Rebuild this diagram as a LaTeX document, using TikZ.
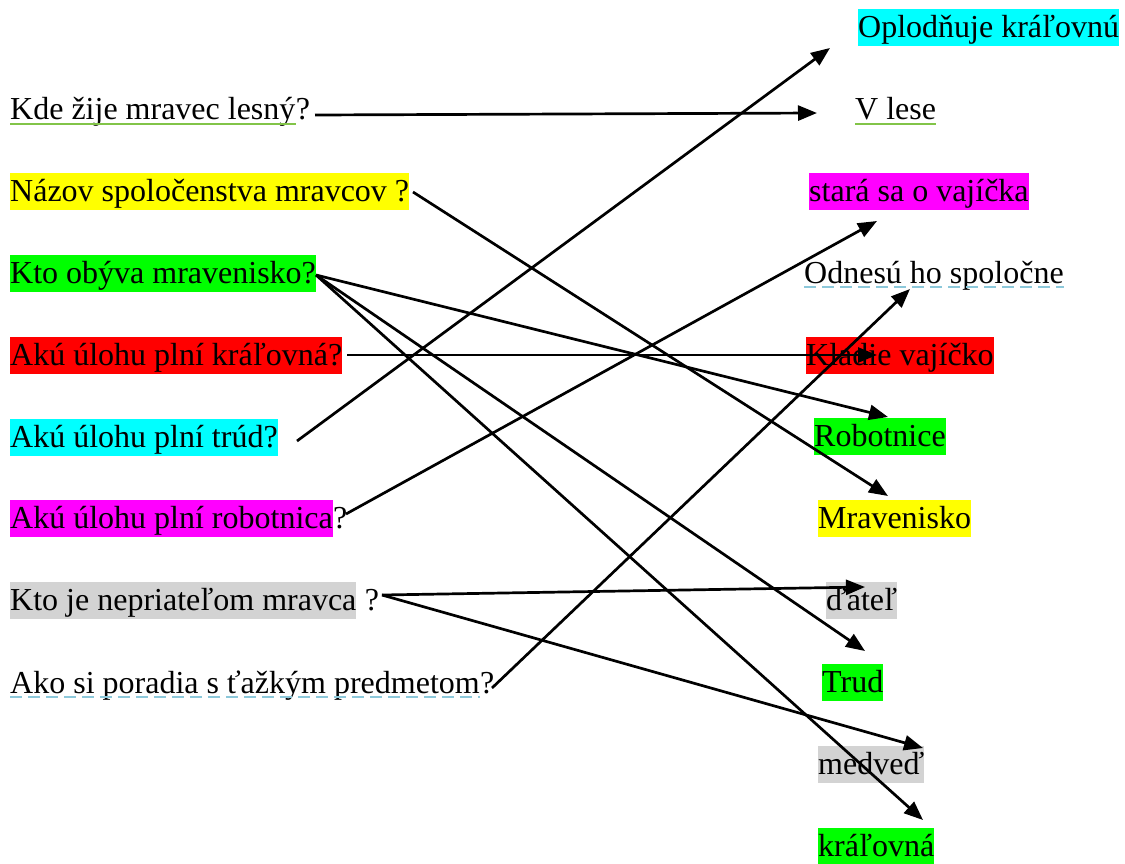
\documentclass[tikz,border=0pt]{standalone}
\usepackage{fontspec}
\setmainfont{Liberation Serif}
\usetikzlibrary{arrows.meta}
\definecolor{hlcyan}{RGB}{0,255,255}
\definecolor{hlyellow}{RGB}{255,255,0}
\definecolor{hlgreen}{RGB}{0,255,0}
\definecolor{hlred}{RGB}{255,0,0}
\definecolor{hlmag}{RGB}{255,0,255}
\definecolor{hlgray}{RGB}{211,211,211}
\definecolor{ulgreen}{RGB}{130,196,72}
\definecolor{ulblue}{RGB}{140,200,218}
\tikzset{
  txt/.style={anchor=base west, inner sep=0pt, text height=28pt, text depth=9pt,
              font=\fontsize{32}{38}\selectfont},
  link/.style={line width=2.7pt, -{Triangle[length=19pt,width=15pt]}},
  ulg/.style={ulgreen, line width=2pt},
  ulb/.style={ulblue, line width=2pt, dash pattern=on 12pt off 6pt},
}
\begin{document}
\begin{tikzpicture}[x=1pt,y=-1pt]
\useasboundingbox (0,0) rectangle (1125,863);
% left questions
\node[txt] (q1) at (10,119) {Kde žije mravec lesný};
\node[txt] (q1m) at (q1.base east) {?};
\node[txt, fill=hlyellow] (q2) at (10,201) {Názov spoločenstva mravcov ?};
\node[txt, fill=hlgreen] (q3) at (10,283) {Kto obýva mravenisko?};
\node[txt, fill=hlred] (q4) at (10,365) {Akú úlohu plní kráľovná?};
\node[txt, fill=hlcyan] (q5) at (10,447) {Akú úlohu plní trúd?};
\node[txt, fill=hlmag] (q6) at (10,528) {Akú úlohu plní robotnica};
\node[txt] (q6m) at (q6.base east) {?};
\node[txt, fill=hlgray] (q7) at (10,610) {Kto je nepriateľom mravca};
\node[txt] (q7m) at (q7.base east) {\ ?};
\node[txt] (q8) at (10,693) {Ako si poradia s ťažkým predmetom};
\node[txt] (q8m) at (q8.base east) {?};
% right answers
\node[txt, fill=hlcyan] (a1) at (858,37) {Oplodňuje kráľovnú};
\node[txt] (a2) at (855,119) {V lese};
\node[txt, fill=hlmag] (a3) at (809,201) {stará sa o vajíčka};
\node[txt] (a4) at (804,283) {Odnesú ho spoločne};
\node[txt, fill=hlred] (a5) at (806,365) {Kladie vajíčko};
\node[txt, fill=hlgreen] (a6) at (814,446) {Robotnice};
\node[txt, fill=hlyellow] (a7) at (818,528) {Mravenisko};
\node[txt, fill=hlgray] (a8) at (826,610) {ďateľ};
\node[txt, fill=hlgreen] (a9) at (822,692) {Trud};
\node[txt, fill=hlgray] (a10) at (818,774) {medveď};
\node[txt, fill=hlgreen] (a11) at (818,856) {kráľovná};
% underlines
\draw[ulg] ([yshift=-5pt]q1.base west) -- ([yshift=-5pt]q1.base east);
\draw[ulg] ([yshift=-5pt]a2.base west) -- ([yshift=-5pt]a2.base east);
\draw[ulb] ([yshift=-4pt]q8.base west) -- ([yshift=-4pt]q8.base east);
\draw[ulb] ([yshift=-4pt]a4.base west) -- ([yshift=-4pt]a4.base east);
% connector end points
\coordinate (s1) at (315,115);
\coordinate (s2) at (413,192);
\coordinate (s3) at (316,275);
\coordinate (s4) at (347,355);
\coordinate (s5) at (297,441);
\coordinate (s6) at (346,514);
\coordinate (s7) at (382,595);
\coordinate (s8) at (492,688);
\coordinate (e1) at (830,48);
\coordinate (e2) at (817,113);
\coordinate (e3) at (877,221);
\coordinate (e4) at (910,289);
\coordinate (e5) at (877,355);
\coordinate (e6) at (888,417);
\coordinate (e7) at (888,496);
\coordinate (e8) at (865,587);
\coordinate (e9) at (865,651);
\coordinate (e10) at (923,748);
\coordinate (e11) at (923,820);
% connectors
\draw[link] (s1) -- (e2);
\draw[link] (s2) -- (e7);
\draw[link] (s3) -- (e6);
\draw[link] (s3) -- (e9);
\draw[link] (s3) -- (e11);
\draw[link] (s4) -- (e5);
\draw[link] (s5) -- (e1);
\draw[link] (s6) -- (e3);
\draw[link] (s7) -- (e8);
\draw[link] (s7) -- (e10);
\draw[link] (s8) -- (e4);
\end{tikzpicture}
\end{document}
